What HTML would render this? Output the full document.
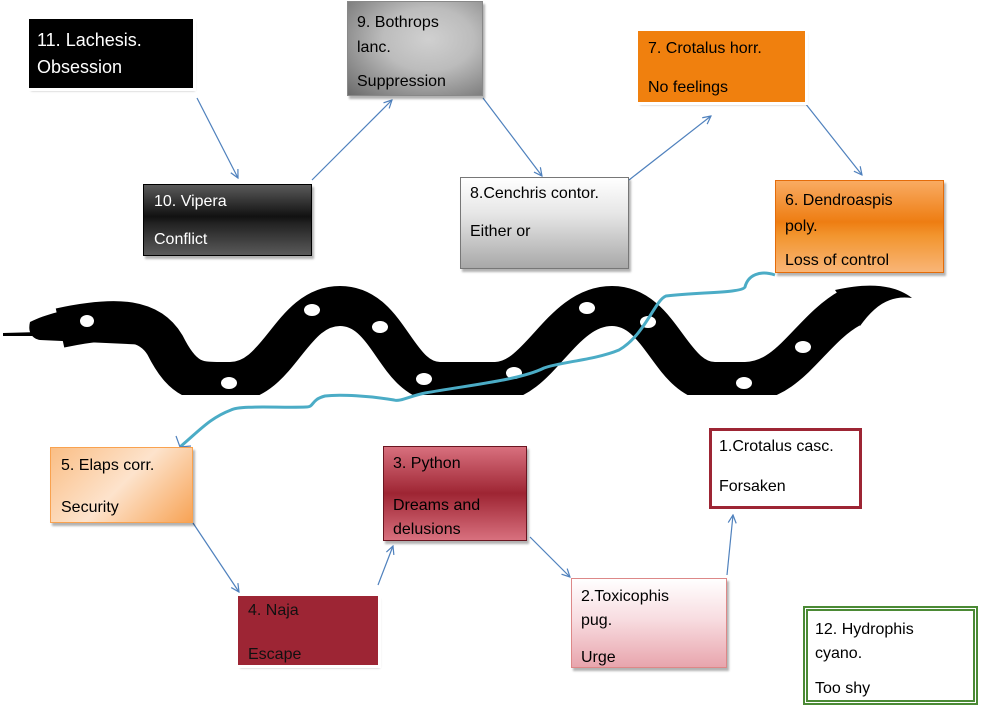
<!DOCTYPE html>
<html><head><meta charset="utf-8"><style>
body{margin:0;width:981px;height:709px;background:#fff;position:relative;overflow:hidden;font-family:"Liberation Sans",sans-serif;}
.b{position:absolute;box-sizing:border-box;box-shadow:2px 3px 2px rgba(0,0,0,.3);}
.t{position:absolute;font-size:16px;white-space:nowrap;}
</style></head><body>
<svg width="981" height="709" style="position:absolute;left:0;top:0">
<defs>
<marker id="a" markerWidth="10" markerHeight="10" refX="9" refY="5" orient="auto" markerUnits="userSpaceOnUse"><path d="M1,1 L9,5 L1,9" fill="none" stroke="#4f81bd" stroke-width="1.2"/></marker>
<clipPath id="c"><rect x="0" y="270" width="981" height="125"/></clipPath>
</defs>
<g stroke="#4f81bd" stroke-width="1.2" fill="none" marker-end="url(#a)">
<line x1="197" y1="98" x2="238" y2="178"/>
<line x1="312" y1="180" x2="392" y2="100"/>
<line x1="483" y1="98" x2="542" y2="176"/>
<line x1="629" y1="180" x2="711" y2="116"/>
<line x1="805" y1="103" x2="862" y2="175"/>
<line x1="193" y1="523" x2="239" y2="592"/>
<line x1="378" y1="585" x2="393" y2="546"/>
<line x1="530" y1="537" x2="570" y2="577"/>
<line x1="727" y1="575" x2="733" y2="515"/>
</g>
<g clip-path="url(#c)">
<path d="M60 328 C120 315 150 320 165 345 C185 385 200 382 230 382 C280 382 290 306 340 306 C390 306 395 382 440 382 L495 382 C540 382 560 306 612 306 C662 306 670 382 715 382 L745 382 C790 382 810 330 850 308" fill="none" stroke="#000" stroke-width="40"/>
</g>
<path d="M835 290 C870 282 895 285 912 298 C890 295 875 305 860 326 Z" fill="#000"/>
<path d="M30 322 C50 312 80 305 110 310 C130 313 145 320 150 335 L150 345 L40 340 C30 338 28 330 30 322Z" fill="#000"/>
<path d="M3 333 L40 332 L40 336 L3 336Z" fill="#000"/>
<g fill="#fff">
<ellipse cx="87" cy="321" rx="7" ry="6"/><ellipse cx="229" cy="383" rx="8" ry="6"/><ellipse cx="312" cy="310" rx="8" ry="6"/><ellipse cx="380" cy="327" rx="8" ry="6"/><ellipse cx="424" cy="379" rx="8" ry="6"/><ellipse cx="514" cy="373" rx="8" ry="6"/><ellipse cx="587" cy="308" rx="8" ry="6"/><ellipse cx="648" cy="322" rx="8" ry="6"/><ellipse cx="803" cy="347" rx="8" ry="6"/><ellipse cx="744" cy="383" rx="8" ry="6"/>
</g>
<path d="M775 275 C760 270 748 275 745 287 C742 293 700 292 666 296 C655 300 645 335 619 350 C595 360 560 362 544 368 C520 380 470 385 425 393 C410 396 400 402 394 400 C370 396 340 394 325 396 C310 400 315 407 306 407 C280 408 240 405 231 410 C210 418 200 430 180 447" fill="none" stroke="#4bacc6" stroke-width="3"/>
<path d="M176 436 L180 447 L191 446" fill="none" stroke="#4f81bd" stroke-width="1.2"/>
</svg>

<div class="b" style="left:29px;top:19px;width:164px;height:69px;background:#000;outline:3px solid #fff"></div>
<div class="t" style="left:37px;top:27px;color:#fff;font-size:18px;line-height:27px">11. Lachesis.<br>Obsession</div>

<div class="b" style="left:143px;top:184px;width:169px;height:72px;background:linear-gradient(#5a5a5a,#111 45%,#222 55%,#5a5a5a);border:1px solid #000"></div>
<div class="t" style="left:154px;top:193px;color:#fff">10. Vipera</div>
<div class="t" style="left:154px;top:231px;color:#fff">Conflict</div>

<div class="b" style="left:347px;top:1px;width:136px;height:95px;background:radial-gradient(ellipse at 60% 40%,#d0d0d0,#bcbcbc 40%,#6a6a6a);border:1px solid #888"></div>
<div class="t" style="left:357px;top:10px;line-height:25px">9. Bothrops<br>lanc.</div>
<div class="t" style="left:357px;top:73px">Suppression</div>

<div class="b" style="left:460px;top:177px;width:169px;height:92px;background:linear-gradient(#fff,#e6e6e6 40%,#a8a8a8);border:1px solid #777"></div>
<div class="t" style="left:470px;top:185px">8.Cenchris contor.</div>
<div class="t" style="left:470px;top:223px">Either or</div>

<div class="b" style="left:638px;top:31px;width:167px;height:71px;background:#f0800e;outline:3px solid #fff"></div>
<div class="t" style="left:648px;top:40px">7. Crotalus horr.</div>
<div class="t" style="left:648px;top:79px">No feelings</div>

<div class="b" style="left:775px;top:180px;width:169px;height:93px;background:linear-gradient(#f9ab62,#ee7d12 45%,#f2952e 60%,#f9b577);border:1px solid #e46c0a"></div>
<div class="t" style="left:785px;top:188px;line-height:26px">6. Dendroaspis<br>poly.</div>
<div class="t" style="left:785px;top:252px">Loss of control</div>

<div class="b" style="left:50px;top:447px;width:143px;height:76px;background:linear-gradient(135deg,#fabe85,#fde3cc 50%,#f7a355);border:1px solid #f9a24f"></div>
<div class="t" style="left:61px;top:457px">5. Elaps corr.</div>
<div class="t" style="left:61px;top:499px">Security</div>

<div class="b" style="left:238px;top:596px;width:140px;height:69px;background:#9d2534;outline:3px solid #fff"></div>
<div class="t" style="left:248px;top:602px;color:#111">4. Naja</div>
<div class="t" style="left:248px;top:646px;color:#111">Escape</div>

<div class="b" style="left:383px;top:446px;width:144px;height:95px;background:linear-gradient(#d8707e,#9e2533 50%,#d8707e);border:1px solid #6a1520"></div>
<div class="t" style="left:393px;top:455px">3. Python</div>
<div class="t" style="left:393px;top:494px;line-height:24px">Dreams and<br>delusions</div>

<div class="b" style="left:571px;top:578px;width:156px;height:90px;background:linear-gradient(#fff,#f8dde1 45%,#e8a5ad);border:1px solid #d88"></div>
<div class="t" style="left:581px;top:585px;line-height:24px">2.Toxicophis<br>pug.</div>
<div class="t" style="left:581px;top:649px">Urge</div>

<div class="b" style="left:709px;top:428px;width:153px;height:81px;background:#fff;border:3px solid #9d2534;box-shadow:none"></div>
<div class="t" style="left:719px;top:438px">1.Crotalus casc.</div>
<div class="t" style="left:719px;top:478px">Forsaken</div>

<div class="b" style="left:803px;top:606px;width:175px;height:99px;background:#fff;border:5px double #4b8a35;box-shadow:none"></div>
<div class="t" style="left:815px;top:618px;line-height:24px">12. Hydrophis<br>cyano.</div>
<div class="t" style="left:815px;top:680px">Too shy</div>
</body></html>
